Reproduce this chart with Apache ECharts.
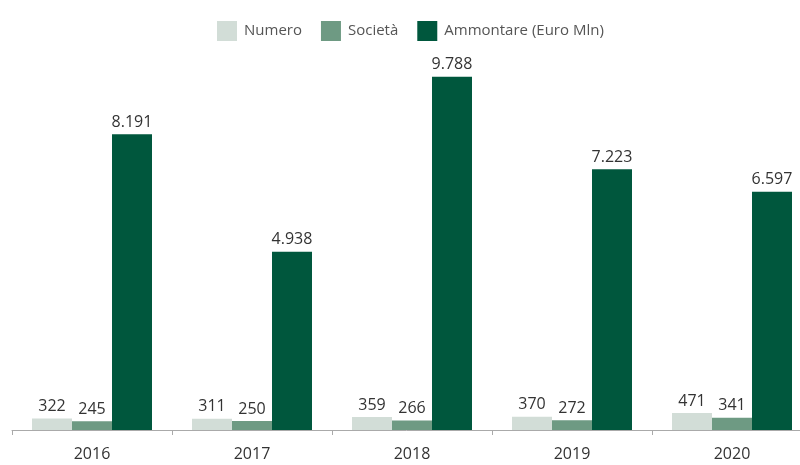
<!DOCTYPE html>
<html>
<head>
<meta charset="utf-8">
<script src="https://cdn.jsdelivr.net/npm/echarts@6/dist/echarts.min.js"></script>
<style>
  html, body { margin: 0; padding: 0; background: #fff; }
  #chart { width: 800px; height: 465px; }
</style>
</head>
<body>
<div id="chart"></div>
<script>
// Anni di riferimento
const years = ['2016', '2017', '2018', '2019', '2020'];

// Numero di operazioni
const numero = [322, 311, 359, 370, 471];
// Società coinvolte
const societa = [245, 250, 266, 272, 341];
// Ammontare in milioni di euro
const ammontare = [8191, 4938, 9788, 7223, 6597];

const seriesNames = ['Numero', 'Società', 'Ammontare (Euro Mln)'];
const seriesColors = ['#d2ddd7', '#6e9a83', '#00573d'];

// Separatore delle migliaia con il punto
function formatIt(v) {
  return String(v).replace(/\B(?=(\d{3})+(?!\d))/g, '.');
}

const chart = echarts.init(document.getElementById('chart'), null, { renderer: 'canvas' });

const labelStyle = {
  show: true,
  position: 'top',
  distance: 4,
  color: '#333',
  fontFamily: 'Open Sans',
  fontSize: 16,
  formatter: p => formatIt(p.value)
};

const seriesData = [numero, societa, ammontare];

chart.setOption({
  animation: false,
  backgroundColor: '#fff',
  color: seriesColors,
  legend: {
    top: 16,
    left: 212,
    itemWidth: 20,
    itemHeight: 20,
    itemGap: 19,
    icon: 'rect',
    textStyle: { fontFamily: 'Open Sans', fontSize: 15, color: '#555', padding: [0, 0, 0, 2] },
    data: seriesNames
  },
  grid: { left: 12, right: -12, top: 69, bottom: 35, outerBoundsMode: 'none', containLabel: false },
  xAxis: {
    type: 'category',
    data: years,
    axisLine: { lineStyle: { color: '#aaa', width: 1 } },
    axisTick: { show: true, length: 5, lineStyle: { color: '#aaa' } },
    axisLabel: { fontFamily: 'Open Sans', fontSize: 16, color: '#333', margin: 16 }
  },
  yAxis: {
    type: 'value',
    min: 0,
    max: 10000,
    show: false,
    splitLine: { show: false }
  },
  series: seriesNames.map((name, i) => ({
    name,
    type: 'bar',
    data: seriesData[i],
    barWidth: 40,
    barGap: '0%',
    barCategoryGap: '25%',
    itemStyle: { color: seriesColors[i] },
    label: labelStyle
  }))
});
</script>
</body>
</html>
